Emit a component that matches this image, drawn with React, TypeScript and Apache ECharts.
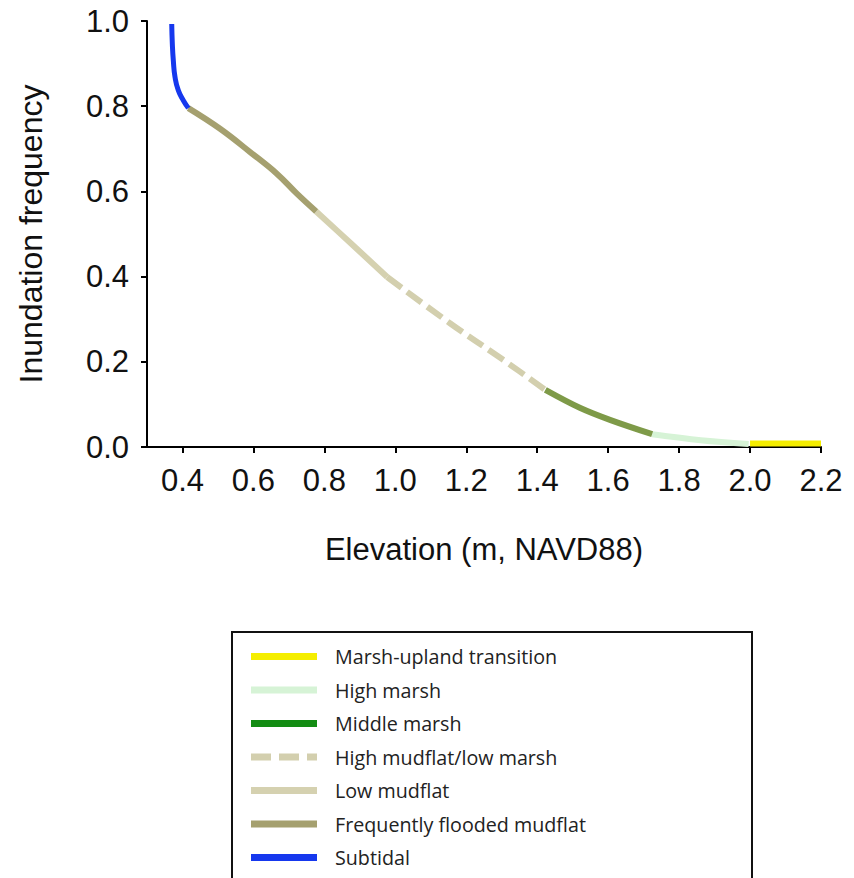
import { useEffect, useRef } from "react";
import * as echarts from "echarts";

// Elevation (m, NAVD88) vs inundation frequency, split by habitat zone
const subtidal: [number, number][] = [
  [0.3697, 0.993], [0.3714, 0.9465], [0.3742, 0.9073], [0.379, 0.8682],
  [0.3883, 0.837], [0.4025, 0.8136], [0.4166, 0.7955],
];
const floodedMudflat: [number, number][] = [
  [0.4166, 0.7955], [0.506, 0.747], [0.5907, 0.6924], [0.666, 0.6417],
  [0.7225, 0.5948], [0.777, 0.553],
];
const lowMudflat: [number, number][] = [
  [0.777, 0.553], [0.876, 0.477], [0.977, 0.399],
];
const highMudflat: [number, number][] = [
  [0.977, 0.399], [1.155, 0.29], [1.30, 0.207], [1.423, 0.134],
];
const middleMarsh: [number, number][] = [
  [1.423, 0.134], [1.52, 0.092], [1.607, 0.063], [1.724, 0.03],
];
const highMarsh: [number, number][] = [
  [1.724, 0.03], [1.861, 0.016], [1.996, 0.007],
];
const uplandTransition: [number, number][] = [
  [2.0, 0.008], [2.2, 0.008],
];

const xTicks = [0.4, 0.6, 0.8, 1.0, 1.2, 1.4, 1.6, 1.8, 2.0, 2.2];

const legendOrder = [
  "Marsh-upland transition",
  "High marsh",
  "Middle marsh",
  "High mudflat/low marsh",
  "Low mudflat",
  "Frequently flooded mudflat",
  "Subtidal",
];

// legend swatches: a solid bar, or three dashes for the dashed zone
const solidIcon = "path://M0,0H66V7H0Z";
const dashedIcon = "path://M0,0H20V7H0Z M28,0H48V7H28Z M56,0H66V7H56Z";

export default function App() {
  const ref = useRef<HTMLDivElement>(null);

  useEffect(() => {
    document.body.style.margin = "0";
    const chart = echarts.init(ref.current!, null, { renderer: "svg" });

    const line = (
      name: string,
      data: [number, number][],
      color: string,
      width: number,
      z: number,
      type: any = "solid",
      smooth = 0.35
    ) => ({
      name,
      type: "line",
      data,
      smooth,
      symbol: "none",
      z,
      lineStyle: { color, width, type, cap: "butt" },
      itemStyle: { color },
    });

    const axisFont = { fontFamily: "Liberation Sans, Arial, sans-serif", color: "#111" };

    chart.setOption({
      animation: false,
      backgroundColor: "#fff",
      grid: { left: 147, top: 21, right: 33, bottom: 431, containLabel: false },
      xAxis: {
        type: "value",
        min: 0.3,
        max: 2.2,
        name: "Elevation (m, NAVD88)",
        nameLocation: "middle",
        nameGap: 87,
        nameTextStyle: { ...axisFont, fontSize: 31 },
        axisLine: { lineStyle: { color: "#000", width: 2 } },
        axisTick: { customValues: xTicks, length: 6, lineStyle: { color: "#000", width: 2 } },
        axisLabel: {
          customValues: xTicks,
          ...axisFont,
          fontSize: 31,
          margin: 18,
          formatter: (v: number) => v.toFixed(1),
        },
        splitLine: { show: false },
      },
      yAxis: {
        type: "value",
        min: 0,
        max: 1,
        interval: 0.2,
        name: "Inundation frequency",
        nameLocation: "middle",
        nameGap: 100,
        nameTextStyle: { ...axisFont, fontSize: 32 },
        axisLine: { show: true, lineStyle: { color: "#000", width: 2 } },
        axisTick: { show: true, length: 6, lineStyle: { color: "#000", width: 2 } },
        axisLabel: {
          ...axisFont,
          fontSize: 31,
          margin: 18,
          formatter: (v: number) => v.toFixed(1),
        },
        splitLine: { show: false },
      },
      legend: {
        orient: "vertical",
        left: 251,
        top: 646.5,
        height: 260,
        padding: 0,
        itemWidth: 66,
        itemHeight: 7,
        itemGap: 13.5,
        textStyle: {
          fontFamily: "Open Sans, sans-serif",
          fontSize: 19.7,
          lineHeight: 20,
          color: "#222",
          padding: [0, 0, 0, 13],
        },
        data: legendOrder.map((n) => {
          const icon = n === "High mudflat/low marsh" ? dashedIcon : solidIcon;
          return n === "Middle marsh"
            ? { name: n, icon, itemStyle: { color: "#138c13" } }
            : { name: n, icon };
        }),
      },
      graphic: [
        {
          type: "rect",
          shape: { x: 232, y: 632, width: 520, height: 300 },
          style: { fill: "none", stroke: "#111", lineWidth: 2 },
          silent: true,
        },
      ],
      series: [
        line("Marsh-upland transition", uplandTransition, "#f5ee00", 6, 3),
        line("High marsh", highMarsh, "#d6f3d6", 6, 3),
        line("Middle marsh", middleMarsh, "#7e9a48", 6, 3),
        line("High mudflat/low marsh", highMudflat, "#d3cfae", 6, 3, [18, 7]),
        line("Low mudflat", lowMudflat, "#d5d1b0", 6, 3),
        line("Frequently flooded mudflat", floodedMudflat, "#a5a06f", 6, 3, "solid", 0.4),
        line("Subtidal", subtidal, "#1638ee", 5, 4, "solid", 0.5),
      ],
    });

    return () => chart.dispose();
  }, []);

  return <div ref={ref} style={{ width: 854, height: 878 }} />;
}
